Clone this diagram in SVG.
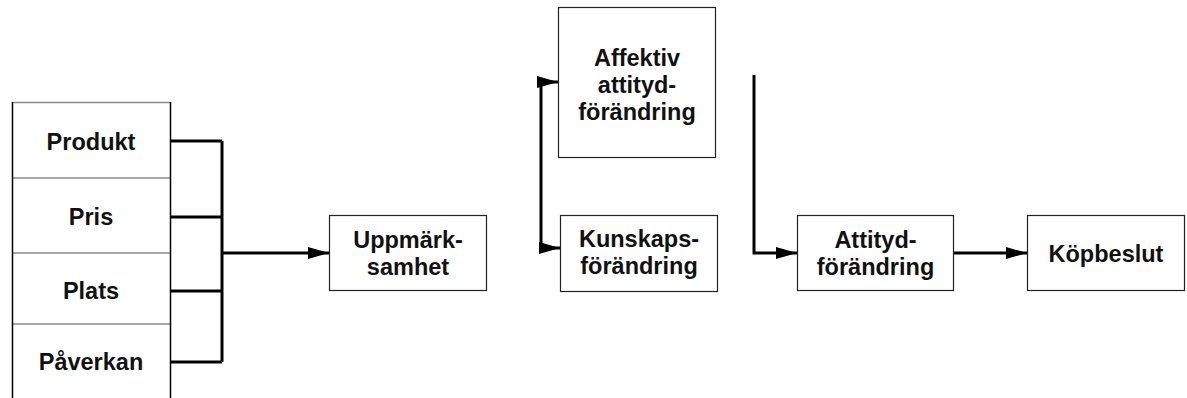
<svg xmlns="http://www.w3.org/2000/svg" width="1187" height="398" viewBox="0 0 1187 398">
  <style>
    .box { fill: #ffffff; stroke: #222222; stroke-width: 1.2; }
    .sep { stroke: #8a8a8a; stroke-width: 1.5; fill: none; }
    .edge { stroke: #000000; stroke-width: 3; fill: none; }
    .lbl { font-family: "Liberation Sans", Arial, sans-serif; font-weight: bold; font-size: 23.5px; fill: #111111; text-anchor: middle; }
  </style>
  <defs>
    <marker id="arrow" markerUnits="userSpaceOnUse" markerWidth="22" markerHeight="14" refX="21" refY="7" orient="auto-start-reverse">
      <path d="M0,1 L21,7 L0,13 Z" fill="#000000"/>
    </marker>
  </defs>

  <rect width="1187" height="398" fill="#ffffff"/>

  <!-- marketing-mix stack -->
  <g id="mix">
    <line class="sep" x1="12" y1="102.5" x2="170" y2="102.5"/>
    <line class="sep" x1="12" y1="178" x2="170" y2="178"/>
    <line class="sep" x1="12" y1="253" x2="170" y2="253"/>
    <line class="sep" x1="12" y1="324" x2="170" y2="324"/>
    <line x1="12.5" y1="102" x2="12.5" y2="398" stroke="#000" stroke-width="1.5"/>
    <line x1="170.5" y1="102" x2="170.5" y2="398" stroke="#000" stroke-width="1.5"/>
  </g>
  <g id="produkt"><text class="lbl" x="91" y="150">Produkt</text></g>
  <g id="pris"><text class="lbl" x="91" y="225">Pris</text></g>
  <g id="plats"><text class="lbl" x="91" y="299">Plats</text></g>
  <g id="paverkan"><text class="lbl" x="91" y="370">Påverkan</text></g>

  <g id="uppmarksamhet">
    <rect class="box" x="329.5" y="215.5" width="157" height="75"/>
    <text class="lbl" x="408" y="248">Uppmärk-</text>
    <text class="lbl" x="408" y="275">samhet</text>
  </g>

  <g id="affektiv">
    <rect class="box" x="558.5" y="7.5" width="157" height="150"/>
    <text class="lbl" x="637" y="66">Affektiv</text>
    <text class="lbl" x="637" y="93">attityd-</text>
    <text class="lbl" x="637" y="120">förändring</text>
  </g>

  <g id="kunskap">
    <rect class="box" x="560.5" y="215.5" width="157" height="76"/>
    <text class="lbl" x="639" y="247">Kunskaps-</text>
    <text class="lbl" x="639" y="274">förändring</text>
  </g>

  <g id="attityd">
    <rect class="box" x="797.5" y="215.5" width="156" height="75"/>
    <text class="lbl" x="875.5" y="248">Attityd-</text>
    <text class="lbl" x="875.5" y="275">förändring</text>
  </g>

  <g id="kopbeslut">
    <rect class="box" x="1027.5" y="215.5" width="157" height="75"/>
    <text class="lbl" x="1106" y="262">Köpbeslut</text>
  </g>

  <!-- connectors -->
  <g id="connectors">
    <path class="edge" d="M170,141 H222 M170,217 H222 M170,291 H222 M170,362 H222 M222,141 V362"/>
    <path class="edge" d="M222,253 H329" marker-end="url(#arrow)"/>
    <path class="edge" d="M558,82 H541 V248 H560" marker-start="url(#arrow)" marker-end="url(#arrow)"/>
    <path class="edge" d="M754,75 V253 H797" marker-end="url(#arrow)"/>
    <path class="edge" d="M954,253 H1027" marker-end="url(#arrow)"/>
  </g>
</svg>
